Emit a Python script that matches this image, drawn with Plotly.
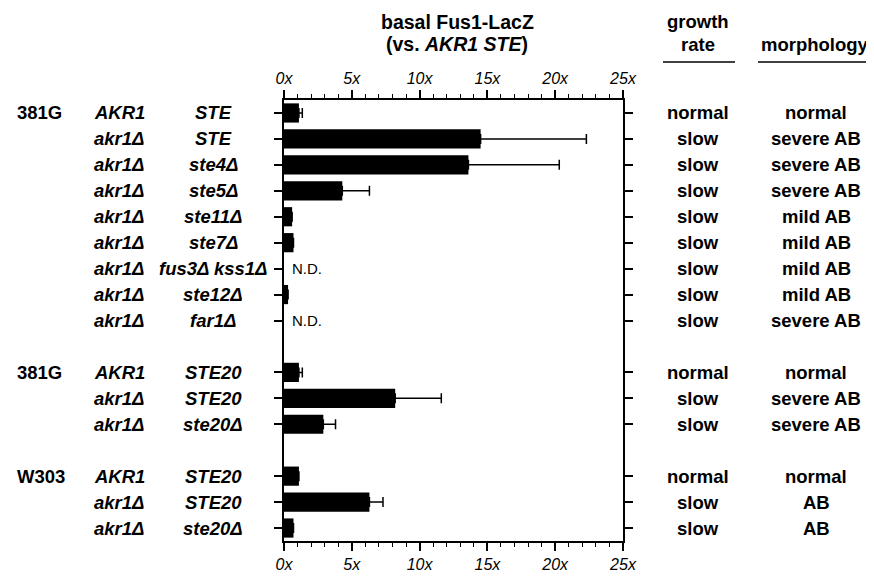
import plotly.graph_objects as go

# ---------------- data ----------------
strain = ["381G", "", "", "", "", "", "", "", "", "381G", "", "", "W303", "", ""]
gene1 = ["AKR1", "akr1Δ", "akr1Δ", "akr1Δ", "akr1Δ", "akr1Δ", "akr1Δ", "akr1Δ", "akr1Δ",
         "AKR1", "akr1Δ", "akr1Δ", "AKR1", "akr1Δ", "akr1Δ"]
gene2 = ["STE", "STE", "ste4Δ", "ste5Δ", "ste11Δ", "ste7Δ", "fus3Δ kss1Δ", "ste12Δ", "far1Δ",
         "STE20", "STE20", "ste20Δ", "STE20", "STE20", "ste20Δ"]
group = [0, 0, 0, 0, 0, 0, 0, 0, 0, 1, 1, 1, 2, 2, 2]
fus1 = [1.1, 14.5, 13.6, 4.3, 0.6, 0.7, None, 0.3, None, 1.1, 8.2, 2.9, 1.1, 6.3, 0.7]
err = [0.25, 7.8, 6.7, 2.0, None, None, None, None, None, 0.25, 3.4, 0.9, None, 1.0, None]
growth = ["normal", "slow", "slow", "slow", "slow", "slow", "slow", "slow", "slow",
          "normal", "slow", "slow", "normal", "slow", "slow"]
morph = ["normal", "severe AB", "severe AB", "severe AB", "mild AB", "mild AB", "mild AB",
         "mild AB", "severe AB", "normal", "severe AB", "severe AB", "normal", "AB", "AB"]
xtick_vals = [0, 5, 10, 15, 20, 25]
xtick_text = ["0x", "5x", "10x", "15x", "20x", "25x"]

# ---------------- layout geometry ----------------
# the page body has an 8px margin, so the figure is drawn 8px in from the window corner
OFF = 8
W, H = 874 - OFF, 585 - OFF
L, R, T, B = 284 - OFF, 874 - 623, 100 - OFF, 585 - 553
PW, PH = W - L - R, H - T - B
FONT = "Liberation Sans, Arial, Helvetica, sans-serif"

def px(x):
    return (x - OFF - L) / PW

def py(y):
    return 1 - (y - OFF - T) / PH

pos = [i + g for i, g in enumerate(group)]
nslots = len(pos) + max(group)

fig = go.Figure()
fig.add_trace(go.Bar(
    x=fus1, y=pos, orientation="h", width=0.74,
    marker=dict(color="black", line=dict(width=0)),
    error_x=dict(type="data", symmetric=False, array=err,
                 arrayminus=[0 if e is not None else None for e in err],
                 color="black", thickness=1.5, width=5),
    hoverinfo="skip", showlegend=False,
))
# invisible trace for the top axis
fig.add_trace(go.Bar(
    x=fus1, y=pos, orientation="h", xaxis="x2", opacity=0,
    hoverinfo="skip", showlegend=False, width=0.74,
))

axis_common = dict(
    range=[0, 25], tickvals=xtick_vals, ticktext=xtick_text,
    ticks="outside", ticklen=8, tickwidth=1.5, tickcolor="black",
    showline=True, linewidth=1.5, linecolor="black", showgrid=False, zeroline=False,
    tickfont=dict(family=FONT, size=16, color="black", style="italic"),
    minor=dict(dtick=1, ticks="outside", ticklen=4, tickwidth=1.2, tickcolor="black"),
)

fig.update_layout(
    width=W, height=H,
    margin=dict(l=L, r=R, t=T, b=B, pad=0),
    paper_bgcolor="white", plot_bgcolor="white",
    barmode="overlay",
    xaxis=dict(**axis_common, side="bottom"),
    xaxis2=dict(**axis_common, side="top", overlaying="x", matches="x"),
    yaxis=dict(range=[nslots - 0.5, -0.5], tickvals=pos, ticktext=[""] * len(pos),
               ticks="outside", ticklen=8, tickwidth=1.5, tickcolor="black",
               showline=True, linewidth=1.5, linecolor="black", mirror="ticks",
               showgrid=False, zeroline=False, showticklabels=False),
    font=dict(family=FONT, color="black"),
)

ann = []
lab_font = dict(family=FONT, size=18.5, color="black")
for i, p in enumerate(pos):
    if strain[i]:
        ann.append(dict(x=px(15), y=p, xref="paper", yref="y", text="<b>%s</b>" % strain[i],
                        xanchor="left", yanchor="middle", showarrow=False, font=lab_font))
    ann.append(dict(x=px(92), y=p, xref="paper", yref="y", text="<b><i>%s</i></b>" % gene1[i],
                    xanchor="left", yanchor="middle", showarrow=False, font=lab_font))
    ann.append(dict(x=px(213), y=p, xref="paper", yref="y", text="<b><i>%s</i></b>" % gene2[i],
                    xanchor="center", yanchor="middle", showarrow=False, font=lab_font))
    ann.append(dict(x=px(698), y=p, xref="paper", yref="y", text="<b>%s</b>" % growth[i],
                    xanchor="center", yanchor="middle", showarrow=False, font=lab_font))
    ann.append(dict(x=px(816), y=p, xref="paper", yref="y", text="<b>%s</b>" % morph[i],
                    xanchor="center", yanchor="middle", showarrow=False, font=lab_font))
    if fus1[i] is None:
        ann.append(dict(x=0, y=p, xref="x", yref="y", text="N.D.", xshift=6,
                        xanchor="left", yanchor="middle", showarrow=False,
                        font=dict(family=FONT, size=15, color="black")))

hdr_font = dict(family=FONT, size=19.5, color="black")
ann += [
    dict(x=px(457), y=py(20), xref="paper", yref="paper", text="<b>basal Fus1-LacZ</b>",
         xanchor="center", yanchor="middle", showarrow=False, font=hdr_font),
    dict(x=px(457), y=py(42), xref="paper", yref="paper", text="<b>(vs. <i>AKR1 STE</i>)</b>",
         xanchor="center", yanchor="middle", showarrow=False, font=hdr_font),
    dict(x=px(698), y=py(19), xref="paper", yref="paper", text="<b>growth</b>",
         xanchor="center", yanchor="middle", showarrow=False, font=lab_font),
    dict(x=px(698), y=py(43), xref="paper", yref="paper", text="<b>rate</b>",
         xanchor="center", yanchor="middle", showarrow=False, font=lab_font),
    dict(x=px(815), y=py(43), xref="paper", yref="paper", text="<b>morphology</b>",
         xanchor="center", yanchor="middle", showarrow=False, font=lab_font),
]
fig.update_layout(annotations=ann)

fig.update_layout(shapes=[
    dict(type="line", xref="paper", yref="paper", x0=px(663), x1=px(735), y0=py(61), y1=py(61),
         line=dict(color="black", width=1.5)),
    dict(type="line", xref="paper", yref="paper", x0=px(758), x1=px(872), y0=py(61), y1=py(61),
         line=dict(color="black", width=1.5)),
])

fig.write_html("out.html")
